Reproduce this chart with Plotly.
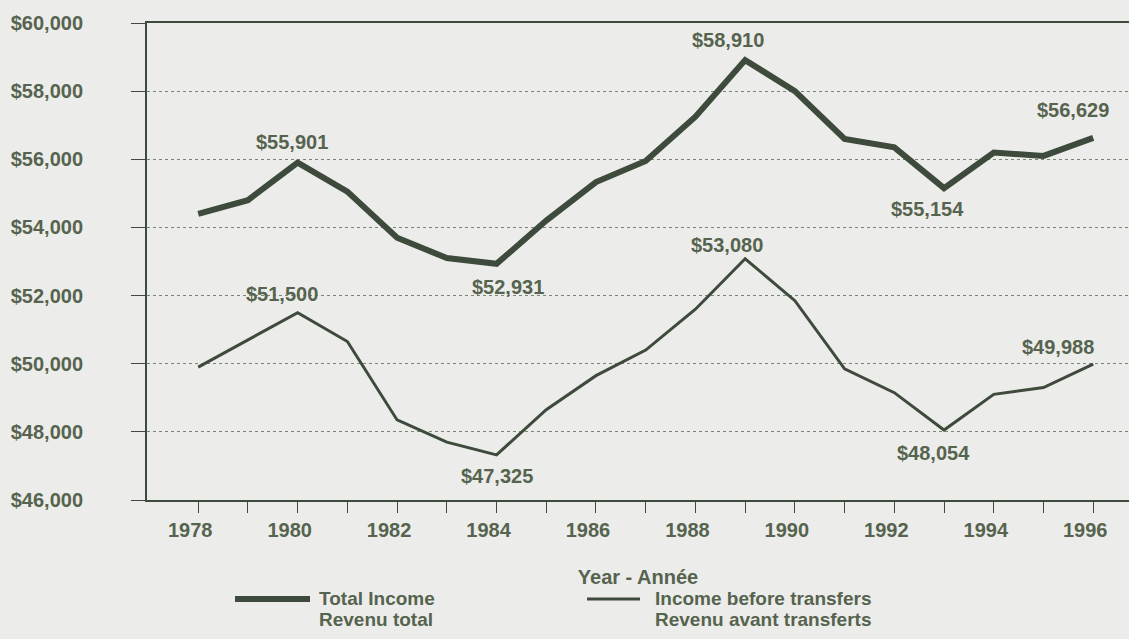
import plotly.graph_objects as go

years = list(range(1978, 1997))

total_income = [54400, 54800, 55901, 55050, 53700, 53100, 52931, 54200,
                55330, 55950, 57250, 58910, 58000, 56600, 56350, 55154,
                56200, 56100, 56629]

before_transfers = [49900, 50700, 51500, 50650, 48350, 47700, 47325, 48650,
                    49650, 50400, 51600, 53080, 51850, 49850, 49150, 48054,
                    49100, 49300, 49988]

label_years = [1980, 1984, 1989, 1993, 1996]

y_ticks = [46000, 48000, 50000, 52000, 54000, 56000, 58000, 60000]

legend_total = ["Total Income", "Revenu total"]
legend_before = ["Income before transfers", "Revenu avant transferts"]

# pixel offsets of the value labels (xshift, yshift)
total_offsets = [(-6, 21), (11, -23), (-17, 20), (-17, -21), (-20, 28)]
before_offsets = [(-16, 19), (0, -21), (-18, 14), (-11, -23), (-35, 17)]

FONT = "Liberation Sans, Arial, sans-serif"
TEXT = "#56634f"
LINE = "#3e4a3c"
BG = "#ecedea"

W, H = 1129, 639
L, T, B = 147, 23, 500


def px(x, y):
    # page pixel -> paper coordinates
    return (x - L) / (W - L), (B - y) / (B - T)


fig = go.Figure()

fig.add_trace(go.Scatter(x=years, y=total_income, mode="lines",
                         line=dict(color=LINE, width=6),
                         name="Total Income", showlegend=False))
fig.add_trace(go.Scatter(x=years, y=before_transfers, mode="lines",
                         line=dict(color=LINE, width=3),
                         name="Income before transfers", showlegend=False))

for series, offsets in ((total_income, total_offsets),
                        (before_transfers, before_offsets)):
    for yr, (dx, dy) in zip(label_years, offsets):
        v = series[years.index(yr)]
        fig.add_annotation(x=yr, y=v, text=f"${v:,}", showarrow=False,
                           xshift=dx, yshift=dy,
                           font=dict(family=FONT, size=20, color=TEXT,
                                     weight="bold"))

# legend drawn by hand so the sample lines can be long
for (x0, x1, w, tx, lines) in ((235, 310, 6, 317, legend_total),
                               (587, 640, 3, 653, legend_before)):
    a0, b0 = px(x0, 599)
    a1, _ = px(x1, 599)
    fig.add_shape(type="line", xref="paper", yref="paper",
                  x0=a0, x1=a1, y0=b0, y1=b0,
                  line=dict(color=LINE, width=w))
    for txt, ty in zip(lines, (598, 619)):
        ax, ay = px(tx, ty)
        fig.add_annotation(xref="paper", yref="paper", x=ax, y=ay, text=txt,
                           showarrow=False, xanchor="left", yanchor="middle",
                           font=dict(family=FONT, size=19, color=TEXT,
                                     weight="bold"))

axis_font = dict(family=FONT, size=20, color=TEXT, weight="bold")

fig.update_xaxes(range=[1976.97, 1996.72], tickvals=years,
                 ticktext=[str(y) if y % 2 == 0 else "" for y in years],
                 ticks="outside", ticklen=11, tickcolor=LINE, tickwidth=1,
                 ticklabelshift=-8, ticklabelstandoff=0,
                 showline=True, linecolor=LINE, linewidth=2, mirror=True,
                 showgrid=False, zeroline=False, tickfont=axis_font,
                 title=dict(text="Year - Année", font=axis_font, standoff=30))

fig.update_yaxes(range=[46000, 60000], tickvals=y_ticks,
                 ticktext=[f"${v:,}" for v in y_ticks],
                 ticks="outside", ticklen=14, tickcolor=LINE, tickwidth=1,
                 ticklabelstandoff=44,
                 showline=True, linecolor=LINE, linewidth=2,
                 showgrid=True, gridcolor="#7b8776", gridwidth=1,
                 griddash="dot", zeroline=False, tickfont=axis_font)

fig.update_layout(width=W, height=H,
                  margin=dict(l=L, r=0, t=T, b=H - B),
                  paper_bgcolor=BG, plot_bgcolor=BG,
                  showlegend=False)

fig.write_html("out.html", config={"displayModeBar": False},
               post_script="document.body.style.margin='0';")
